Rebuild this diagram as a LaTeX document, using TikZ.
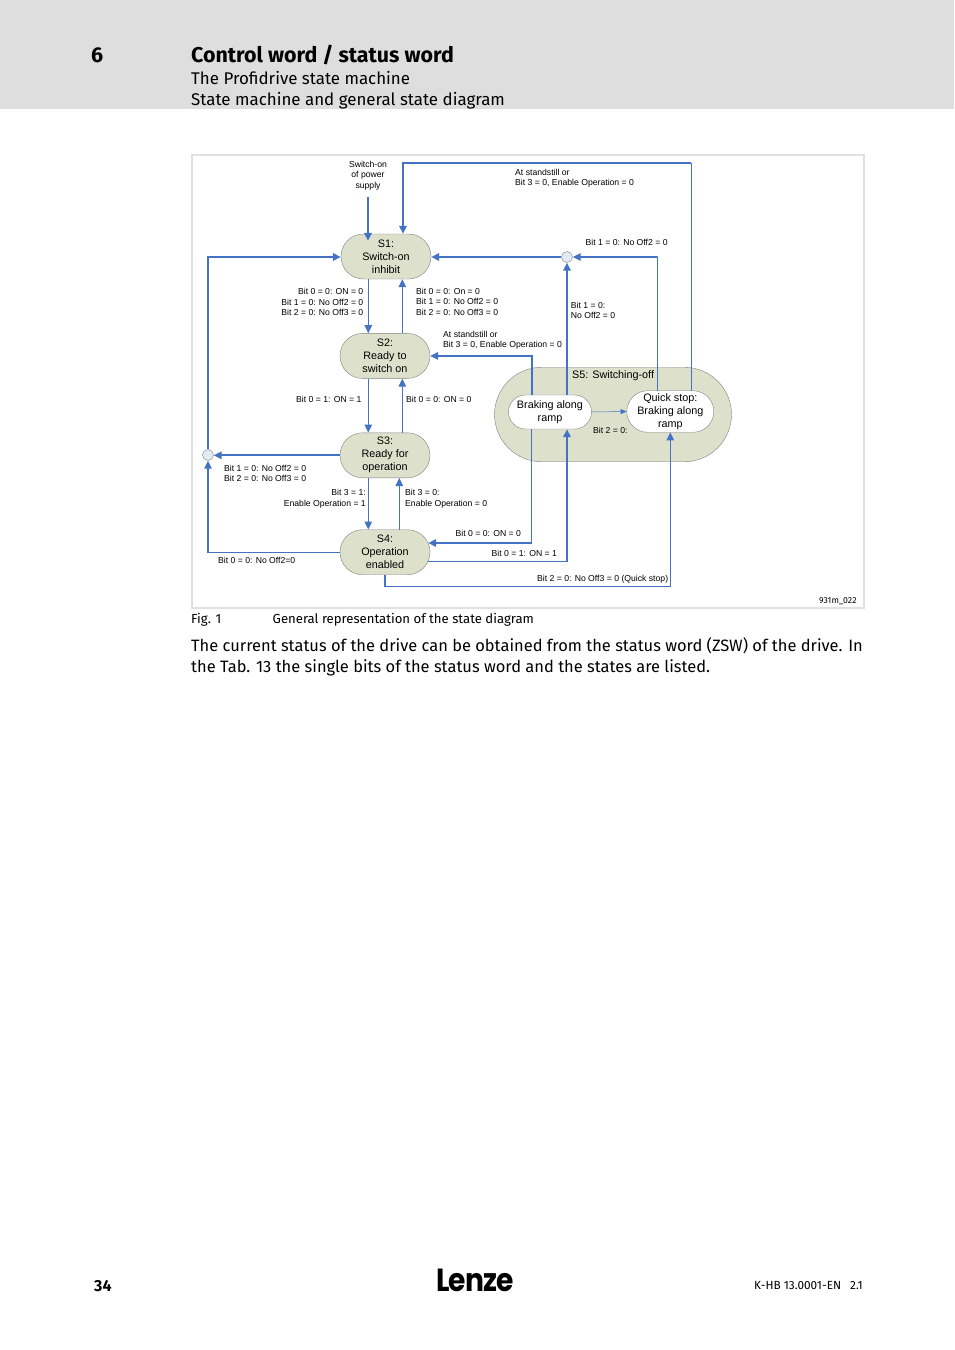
\documentclass[tikz,border=0pt]{standalone}
\usepackage{fontspec}
\setmainfont{Fira Sans}
\newfontfamily\diagfont{Liberation Sans}
\newfontfamily\logofont[LetterSpace=-3]{Poppins}
\usetikzlibrary{shapes,positioning,arrows.meta}
\definecolor{flowblue}{HTML}{4472C4}
\definecolor{statefill}{HTML}{DDE1CC}
\definecolor{bandgray}{HTML}{DEDEDE}
\definecolor{framegray}{HTML}{E0E0E0}
\definecolor{junctionfill}{HTML}{E4EAF4}
\begin{document}
\begin{tikzpicture}[
            x=1pt, y=-1pt,
            node distance=54pt,
            state/.style={draw=gray, fill=statefill, rounded rectangle, minimum width=90pt, minimum height=45pt, inner sep=0pt, align=center, font=\diagfont\fontsize{10.8}{13}\selectfont},
            inner/.style={state, fill=white},
            junction/.style={draw=gray, fill=junctionfill, circle, minimum size=11pt, inner sep=0pt},
            lbl/.style={anchor=west, inner sep=0pt, yshift=-0.6pt, align=left, font=\diagfont\fontsize{8.65}{10.4}\selectfont},
            rlbl/.style={lbl, anchor=east, align=right},
            page/.style={anchor=base west, inner sep=0pt, font=\fontsize{16.45}{20}\selectfont},
            flow/.style={draw=flowblue, line width=1.8pt, -{Triangle[length=8pt,width=7.5pt]}},
            thinflow/.style={flow, line width=1.2pt},
            plainflow/.style={draw=flowblue, line width=1.2pt},
        ]
            \useasboundingbox (0,0) rectangle (954,1350);
            \fill[bandgray] (0,0) rectangle (954,109);
            \node[page, font=\bfseries\fontsize{21.4}{25}\selectfont] (chapter) at (91,62) {6};
            \node[page, font=\bfseries\fontsize{21.4}{25}\selectfont] (title) at (191,62) {Control word / status word};
            \node[page, font=\fontsize{16.9}{20}\selectfont] (sub1) at (191,84) {The Profidrive state machine};
            \node[page, font=\fontsize{16.9}{20}\selectfont] (sub2) at (191,105) {State machine and general state diagram};
            \draw[framegray, line width=2pt] (191.5,155) rectangle (864,608);

            \node[state, minimum width=237pt, minimum height=94.5pt] (s5) at (613,414.5) {};
            \node[lbl, font=\diagfont\fontsize{10.8}{13}\selectfont] (s5text) at (572,375) {S5: Switching-off};
            \node[inner, minimum width=83pt, minimum height=34pt] (brake) at (550,412) {Braking along\\ramp};
            \node[inner, minimum width=81.5pt, minimum height=41.5pt] (quick) at (670.3,411.5) {Quick stop:\\Braking along\\ramp};

            \node[state] (s1) at (386,256.5) {S1:\\Switch-on\\inhibit};
            \node[state, below=of s1, xshift=-1pt] (s2) {S2:\\Ready to\\switch on};
            \node[state, below=of s2] (s3) {S3:\\Ready for\\operation};
            \node[state, below=51.5pt of s3] (s4) {S4:\\Operation\\enabled};
            \node[junction] (jtop) at (567,257) {};
            \node[junction] (jleft) at (208,455) {};

            \node[lbl, anchor=center, align=center] (power) at (368,175) {Switch-on\\of power\\supply};
            \coordinate (ctop) at (403,163);
            \coordinate (cqk) at (691.3,163);
            \coordinate (cjt) at (657.5,257);
            \coordinate (cs2) at (531.7,356);
            \coordinate (cs4) at (531.7,543);
            \coordinate (cbr) at (567,561.7);
            \coordinate (cqs) at (670.3,586.3);

            \draw[flow] ([yshift=-7pt]power.south) -- ([yshift=-7pt]power.south |- s1.north);
            \draw[plainflow] (quick.north -| cqk) -- (cqk);
            \draw[flow] (cqk) -- (ctop) -- ([xshift=17pt]s1.north);
            \draw[thinflow] ([xshift=-13pt]quick.north) |- (cjt) -- (jtop.east);
            \draw[flow] (jtop.west) -- (jtop -| s1.east);
            \draw[flow] ([xshift=17pt]brake.north) -- (jtop.south);
            \draw[flow] (brake.north -| cs2) |- (s2.east);
            \draw[plainflow] (brake.south -| cs4) -- (cs4);
            \draw[flow] (cs4) -- ([xshift=-2pt]s4.east |- cs4);
            \draw[plainflow] ([xshift=-2pt]s4.east |- cbr) -- (cbr);
            \draw[flow] (cbr) -- ([xshift=17pt]brake.south);
            \draw[thinflow] (s4.south) |- (cqs) -- (quick.south);
            \draw[draw=flowblue, line width=0.5pt, -{Triangle[length=6pt,width=5pt]}] (brake.east) -- (quick.west);

            \draw[thinflow] ([xshift=-17.7pt]s1.south) -- ([xshift=-16.7pt]s2.north);
            \draw[thinflow] ([xshift=17.3pt]s2.north) -- ([xshift=16.3pt]s1.south);
            \draw[thinflow] ([xshift=-16.7pt]s2.south) -- ([xshift=-16.7pt]s3.north);
            \draw[thinflow] ([xshift=17.3pt]s3.north) -- ([xshift=17.3pt]s2.south);
            \draw[thinflow] ([xshift=-16.7pt]s3.south) -- ([xshift=-16.7pt]s4.north);
            \draw[thinflow] ([xshift=14.3pt]s4.north) -- ([xshift=14.3pt]s3.south);

            \draw[flow] (s3.west) -- (s3.west -| jleft.east);
            \draw[flow] (jleft.north) |- ([yshift=-0.5pt]s1.west);
            \draw[thinflow] (s4.west) -| (jleft.south);

            \node[lbl] (lbltop) at (515,177.5) {At standstill or\\Bit 3 = 0, Enable Operation = 0};
            \node[lbl] (lbljt) at (585.5,242) {Bit 1 = 0: No Off2 = 0};
            \node[rlbl] (lbls1a) at (363.5,301.5) {Bit 0 = 0: ON = 0\\Bit 1 = 0: No Off2 = 0\\Bit 2 = 0: No Off3 = 0};
            \node[lbl] (lbls1b) at (416,301) {Bit 0 = 0: On = 0\\Bit 1 = 0: No Off2 = 0\\Bit 2 = 0: No Off3 = 0};
            \node[lbl] (lbls2) at (443,339.4) {At standstill or\\Bit 3 = 0, Enable Operation = 0};
            \node[lbl] (lblbr) at (570.7,310) {Bit 1 = 0:\\No Off2 = 0};
            \node[lbl] (lbls2a) at (296,399) {Bit 0 = 1: ON = 1};
            \node[lbl] (lbls2b) at (406,399) {Bit 0 = 0: ON = 0};
            \node[lbl] (lbls3) at (224,472.5) {Bit 1 = 0: No Off2 = 0\\Bit 2 = 0: No Off3 = 0};
            \node[rlbl] (lbls3a) at (366,498) {Bit 3 = 1:\\Enable Operation = 1};
            \node[lbl] (lbls3b) at (405,498) {Bit 3 = 0:\\Enable Operation = 0};
            \node[lbl] (lbls4a) at (455.5,533) {Bit 0 = 0: ON = 0};
            \node[lbl] (lbls4b) at (491.5,553) {Bit 0 = 1: ON = 1};
            \node[lbl] (lbls4c) at (218,560) {Bit 0 = 0: No Off2=0};
            \node[lbl] (lblqs) at (537,578.5) {Bit 2 = 0: No Off3 = 0 (Quick stop)};
            \node[lbl] (lblbit) at (593,430) {Bit 2 = 0:};
            \node[page, font=\fontsize{8.7}{10}\selectfont] (figid) at (819,603.3) {931m\_022};

            \node[page, font=\fontsize{13.15}{17}\selectfont] (fig) at (191,623.5) {Fig. 1};
            \node[page, font=\fontsize{13.15}{17}\selectfont] (caption) at (272.5,623.5) {General representation of the state diagram};
            \node[page] (para1) at (191,651) {The current status of the drive can be obtained from the status word (ZSW) of the drive. In};
            \node[page] (para2) at (191,672) {the Tab. 13 the single bits of the status word and the states are listed.};

            \node[page, font=\bfseries\fontsize{16}{18}\selectfont] (pageno) at (94,1291) {34};
            \node[page, font=\logofont\bfseries\fontsize{32}{32}\selectfont, xscale=.88] (logo) at (436,1291) {Lenze};
            \node[page, anchor=base east, font=\fontsize{11.8}{14}\selectfont] (docid) at (863,1289) {K-HB 13.0001-EN\hspace{9pt}2.1};
        \end{tikzpicture}
\end{document}
